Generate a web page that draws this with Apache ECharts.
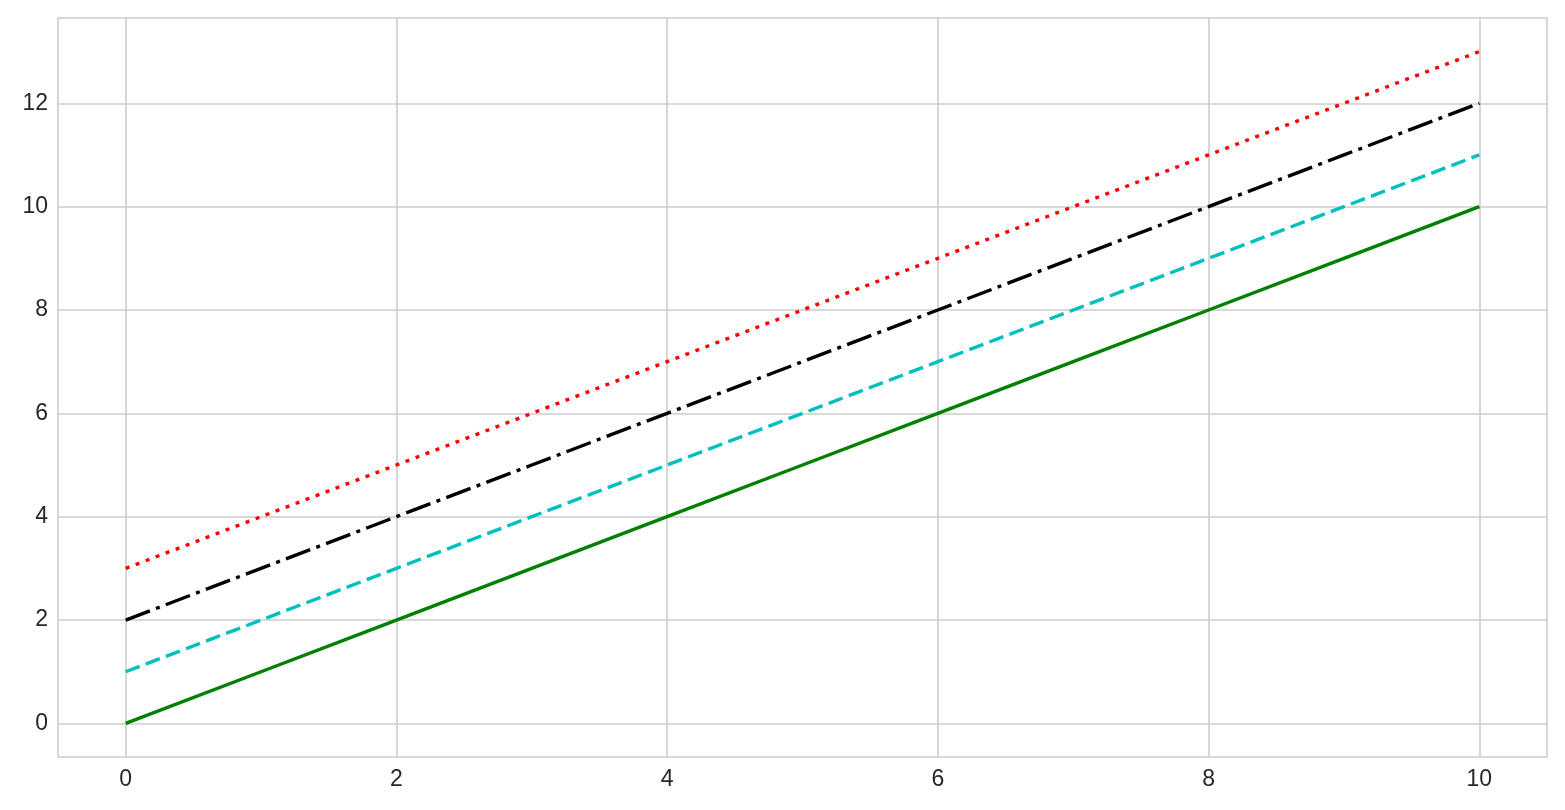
<!DOCTYPE html>
<html>
<head>
<meta charset="utf-8">
<script src="https://cdn.jsdelivr.net/npm/echarts@6/dist/echarts.min.js"></script>
<style>
html,body{margin:0;padding:0;background:#fff;}
#chart{width:1565px;height:810px;}
</style>
</head>
<body>
<div id="chart"></div>
<script>
const xValues = [0, 1, 2, 3, 4, 5, 6, 7, 8, 9, 10];
const solidGreen = [0, 1, 2, 3, 4, 5, 6, 7, 8, 9, 10];
const dashedCyan = [1, 2, 3, 4, 5, 6, 7, 8, 9, 10, 11];
const dashDotBlack = [2, 3, 4, 5, 6, 7, 8, 9, 10, 11, 12];
const dottedRed = [3, 4, 5, 6, 7, 8, 9, 10, 11, 12, 13];
const xTicks = [0, 2, 4, 6, 8, 10];
const yTicks = [0, 2, 4, 6, 8, 10, 12];

function pairs(ys) { return xValues.map((x, i) => [x, ys[i]]); }

const labelStyle = { color: '#262626', fontSize: 23, fontFamily: 'Arial, "Liberation Sans", sans-serif' };

const chart = echarts.init(document.getElementById('chart'), null, { renderer: 'canvas' });
chart.setOption({
  animation: false,
  backgroundColor: '#ffffff',
  grid: { left: 58, right: 18, top: 18, bottom: 53, show: true, borderColor: '#cccccc', borderWidth: 1.6, backgroundColor: 'transparent' },
  xAxis: {
    type: 'value', min: -0.5, max: 10.5,
    axisLine: { show: false },
    axisTick: { show: false, customValues: xTicks },
    axisLabel: Object.assign({ customValues: xTicks, margin: 11 }, labelStyle),
    splitLine: { show: true, lineStyle: { color: '#cccccc', width: 1.6 } }
  },
  yAxis: {
    type: 'value', min: -0.65, max: 13.65,
    axisLine: { show: false },
    axisTick: { show: false, customValues: yTicks },
    axisLabel: Object.assign({ customValues: yTicks, margin: 10 }, labelStyle),
    splitLine: { show: true, lineStyle: { color: '#cccccc', width: 1.6 } }
  },
  series: [
    { type: 'line', data: pairs(solidGreen), showSymbol: false, lineStyle: { color: '#008000', width: 3.4, type: 'solid' } },
    { type: 'line', data: pairs(dashedCyan), showSymbol: false, lineStyle: { color: '#00bfbf', width: 3.4, type: [15, 6.5], cap: 'butt' } },
    { type: 'line', data: pairs(dashDotBlack), showSymbol: false, lineStyle: { color: '#000000', width: 3.4, type: [25.9, 6.5, 4, 6.5], cap: 'butt' } },
    { type: 'line', data: pairs(dottedRed), showSymbol: false, lineStyle: { color: '#ff0000', width: 3.4, type: [4, 6.7], cap: 'butt' } }
  ]
});
</script>
</body>
</html>
